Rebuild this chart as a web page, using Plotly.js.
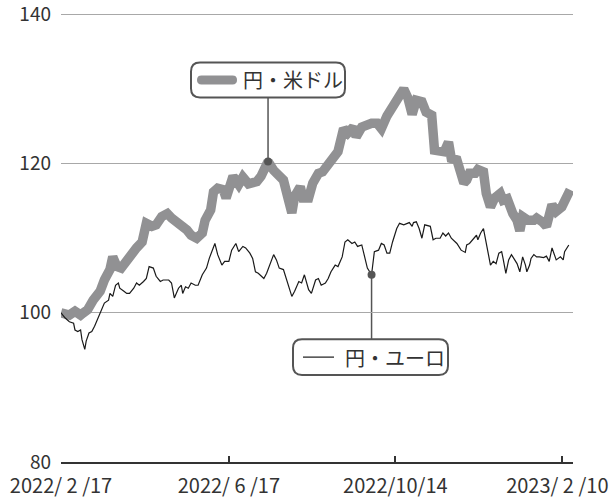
<!DOCTYPE html>
<html>
<head>
<meta charset="utf-8">
<script src="https://cdn.plot.ly/plotly-3.0.1.min.js"></script>
<style>
html,body{margin:0;padding:0;background:#fff;}
#chart{width:616px;height:498px;}
</style>
</head>
<body>
<div id="chart"></div>
<script>
// ---- data (index, 2022/2/17 = 100); x = days since start date ----
const startDate = '2022-02-17';
const endDay = 366;

const usdDays = [0,6,10,14,16,19,23,28,31,35,37,40,43,47,51,54,58,61,65,68,72,76,79,83,86,90,93,97,101,103,107,109,112,116,118,121,123,127,130,134,137,140,143,146,148,152,155,159,162,165,167,171,173,177,180,184,187,191,195,198,202,205,209,211,215,218,222,226,229,233,236,240,245,248,251,254,258,261,265,267,271,274,277,279,283,285,288,290,292,296,298,302,304,307,310,314,316,319,321,323,326,328,330,334,338,340,344,347,351,354,358,361,364];
const usdVals = [100,99.7,100.2,99.7,100,100.4,101.7,102.9,104.4,105.8,107.5,106.2,106,107.1,107.8,108.7,109.5,112,111.6,111.8,112.9,113.3,112.7,112.2,111.8,111.1,110.4,110,110.7,112.4,113.8,116.2,116.7,116.5,115.4,116.9,118.3,117.2,118.2,117.3,117.3,117.6,118.3,119.2,120.3,119.1,118.7,117.8,115.6,113.4,115.6,116.9,115.4,115.4,117.4,118.7,118.9,119.8,120.5,121.6,124.7,124.1,124.9,123.6,124.9,125.2,125.4,125.4,124.7,126.4,127.4,128.7,130,128.8,126.6,128.5,128.3,126.9,126.5,121.8,121.6,121.6,122.9,120.7,120.5,119,117.4,117.8,118.7,118.7,119.2,118.9,116,114.2,115.4,116,115.1,115.3,113.8,113.3,112.4,111,112.9,112.4,112.4,112.7,112.2,111.6,114.5,113.6,114.2,115.4,116.5];

const eurDays = [0,3,6,9,10,12,14,15,17,18,20,22,24,27,29,31,34,35,37,39,41,42,45,47,49,52,54,56,59,61,63,66,68,71,73,77,79,81,84,86,87,89,91,93,96,98,101,104,106,110,112,115,117,120,122,125,127,130,132,135,137,139,141,145,147,149,152,154,156,159,161,164,165,167,170,172,174,177,179,182,184,186,189,191,193,196,198,201,203,205,208,210,212,215,217,219,222,224,227,229,231,233,235,237,240,242,245,247,249,251,252,254,256,258,260,264,266,268,271,273,275,277,279,283,286,289,290,292,295,297,298,300,302,304,305,307,309,311,313,315,316,318,320,322,323,326,328,330,332,333,335,336,338,340,342,345,347,349,351,353,354,357,359,360,363];
const eurVals = [100,99.3,98.8,98.6,97.7,97.5,97.7,96.4,95.1,96.2,97.3,97.5,98.2,99.5,100.2,101.3,101.7,102.6,102.2,103.7,104,103.3,102.9,102.6,102.6,103.3,104,103.7,104.2,104.6,106.2,106,104.9,104.2,104.4,104.4,104,102,103.3,103.7,102.6,103.5,103.3,104,103.7,103.7,105.1,106,107.3,109.3,107.8,106.4,106.9,106.9,108.4,109.3,108.2,108.9,108.7,108,107.3,105.5,105.3,104.6,105.3,106.2,107.8,107.1,106,105.8,104.6,103.1,102.2,102.9,104.2,104,105.1,103.1,102.6,104.4,104.6,103.7,104,104.6,105.5,106.4,106.2,107.5,109.5,109.8,109.3,109.5,108.9,109.1,107.5,106,105.1,108.2,108.4,109.3,109.1,108,108,109.5,111.3,112,111.8,112,112.1,111.6,112.1,112.2,111.3,110,111.8,111.6,109.8,110,110,110.7,110.3,110.7,110,109.3,108.4,108.1,109.1,109.3,110,110.4,109.8,110.7,111.3,109.3,108,106.4,106.9,106.6,108,108.2,107.3,105.3,107.1,107.8,107.5,106.6,105.5,107.5,106.4,105.5,106.4,107.3,107.8,107.5,107.5,107.4,107.6,106.9,108.7,107.8,107.1,107.5,107.1,108.2,109.1];

const usdName = '円・米ドル';
const eurName = '円・ユーロ';
const usdMarkDay = 148;   // callout point on 円・米ドル
const eurMarkDay = 222;   // callout point on 円・ユーロ

const tickDays = [0,120,239,358];
const tickText = ['2022/ 2 /17','2022/ 6 /17','2022/10/14','2023/ 2 /10\u00a0\u00a0'];
const yTicks = [80,100,120,140];
const yMin = 80, yMax = 140.6;

// ---- helpers ----
const t0 = Date.parse(startDate + 'T00:00:00Z');
const toDate = d => new Date(t0 + d*86400000).toISOString().slice(0,10);

const FONT = '"Noto Sans CJK JP", "Noto Sans", sans-serif';
const USD_COLOR = '#919193';
const EUR_COLOR = '#1a1a1a';
const DARK = '#555555';

// pixel geometry: y=80 at 462px, 7.4667 px per unit; x from 61px, 512px wide
const PPU = 7.4667, BASE = 462;
const L = 61, W = 512;
const T = BASE - (yMax - yMin) * PPU, H = BASE - T;
const px = x => (x - L) / W;
const py = y => (BASE - y) / H;
const pyData = y => yMin + (BASE - y) / PPU;

function roundRect(x0, y0, x1, y1, r) {
  const rx = r / W, ry = r / H;
  const a = px(x0), b = px(x1), top = py(y0), bot = py(y1);
  return `M ${a+rx},${top} L ${b-rx},${top} Q ${b},${top} ${b},${top-ry} ` +
         `L ${b},${bot+ry} Q ${b},${bot} ${b-rx},${bot} L ${a+rx},${bot} ` +
         `Q ${a},${bot} ${a},${bot+ry} L ${a},${top-ry} Q ${a},${top} ${a+rx},${top} Z`;
}

const usdX = usdDays.map(toDate);
const eurX = eurDays.map(toDate);
const ui = usdDays.indexOf(usdMarkDay);
const ei = eurDays.indexOf(eurMarkDay);

const traces = [
  {x: usdX, y: usdVals, type: 'scatter', mode: 'lines', name: usdName,
   line: {color: USD_COLOR, width: 9.5}, hoverinfo: 'skip'},
  {x: eurX, y: eurVals, type: 'scatter', mode: 'lines', name: eurName,
   line: {color: EUR_COLOR, width: 1.2}, hoverinfo: 'skip'},
  {x: [usdX[ui], eurX[ei]], y: [usdVals[ui], eurVals[ei]], type: 'scatter', mode: 'markers',
   marker: {color: DARK, size: 8}, hoverinfo: 'skip', showlegend: false}
];

const shapes = [
  // connectors
  {type: 'line', xref: 'x', yref: 'y', x0: usdX[ui], x1: usdX[ui], y0: usdVals[ui], y1: pyData(97),
   line: {color: DARK, width: 1.5}, layer: 'below'},
  {type: 'line', xref: 'x', yref: 'y', x0: eurX[ei], x1: eurX[ei], y0: eurVals[ei], y1: pyData(339),
   line: {color: DARK, width: 1.5}, layer: 'below'},
  // boxes
  {type: 'path', xref: 'paper', yref: 'paper', path: roundRect(191, 62, 345, 97, 9),
   fillcolor: '#ffffff', line: {color: DARK, width: 2}},
  {type: 'path', xref: 'paper', yref: 'paper', path: roundRect(293, 339, 448, 375, 9),
   fillcolor: '#ffffff', line: {color: DARK, width: 2}},
  // legend samples
  {type: 'path', xref: 'paper', yref: 'paper', path: roundRect(197, 75, 237, 84, 4.5),
   fillcolor: USD_COLOR, line: {width: 0}},
  {type: 'line', xref: 'paper', yref: 'paper', x0: px(303), x1: px(334), y0: py(357), y1: py(357),
   line: {color: EUR_COLOR, width: 1.2}}
];

const annotations = [
  {xref: 'paper', yref: 'paper', x: px(241), y: py(79.5), xanchor: 'left', yanchor: 'middle',
   text: usdName, showarrow: false, font: {family: FONT, size: 20, color: '#333'}},
  {xref: 'paper', yref: 'paper', x: px(343), y: py(357), xanchor: 'left', yanchor: 'middle',
   text: eurName, showarrow: false, font: {family: FONT, size: 20, color: '#333'}}
];

const layout = {
  width: 616, height: 498,
  margin: {l: L, r: 616 - L - W, t: T, b: 498 - BASE, pad: 0},
  paper_bgcolor: '#fff', plot_bgcolor: '#fff',
  showlegend: false,
  font: {family: FONT, size: 19, color: '#333'},
  xaxis: {
    type: 'date', range: [toDate(0), toDate(endDay)],
    tickvals: tickDays.map(toDate), ticktext: tickText,
    ticks: 'inside', ticklen: 6, tickwidth: 2, tickcolor: '#333',
    showline: true, linecolor: '#333', linewidth: 2,
    showgrid: false, zeroline: false, automargin: false,
    ticklabelstandoff: 5, ticklabeloverflow: 'allow',
    tickfont: {family: FONT, size: 20, color: '#333'}
  },
  yaxis: {
    range: [yMin, yMax], tickvals: yTicks,
    showgrid: true, gridcolor: '#a8a8a8', gridwidth: 1,
    showline: false, zeroline: false, ticks: '', automargin: false,
    ticklabelstandoff: 9, ticklabeloverflow: 'allow',
    tickfont: {family: FONT, size: 19, color: '#333'}
  },
  shapes: shapes,
  annotations: annotations
};

Plotly.newPlot('chart', traces, layout, {staticPlot: true, displayModeBar: false});
</script>
</body>
</html>
